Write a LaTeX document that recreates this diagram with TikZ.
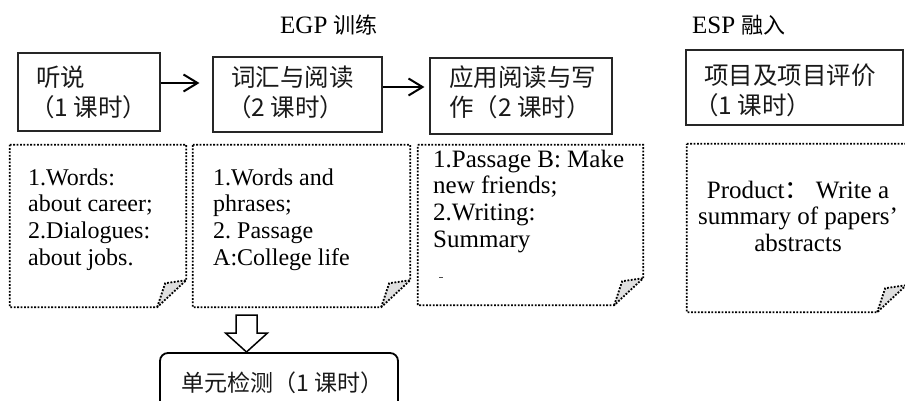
\documentclass[tikz,border=0pt]{standalone}
\usepackage{fontspec}
\setmainfont{Liberation Serif}
\newfontfamily\cjk{Noto Sans CJK SC}
\usetikzlibrary{arrows.meta}
\frenchspacing
\newcommand\foldbox[1]{%
  \fill[gray!25] ([xshift=-29pt]#1.south east) -- ([xshift=-21pt,yshift=24pt]#1.south east) -- ([yshift=27pt]#1.south east) -- cycle;
  \draw[dotline] (#1.north west) -- (#1.north east) -- ([yshift=27pt]#1.south east) -- ([xshift=-29pt]#1.south east) -- (#1.south west) -- cycle;
  \draw[dotline] ([xshift=-29pt]#1.south east) -- ([xshift=-21pt,yshift=24pt]#1.south east) -- ([yshift=27pt]#1.south east);
}
\begin{document}
\begin{tikzpicture}[x=1pt,y=-1pt,
  box/.style={draw=black!85, line width=1.1pt, inner sep=0pt},
  area/.style={inner sep=0pt},
  cjkt/.style={font=\cjk\fontsize{24.5}{28}\selectfont, align=left, inner sep=0pt, anchor=north west, text=black!90},
  ent/.style={font=\fontsize{24}{26.7}\selectfont, align=left, inner sep=0pt, anchor=north west, text=black},
  entb/.style={font=\fontsize{25}{26.7}\selectfont, align=left, inner sep=0pt, anchor=north west, text=black},
  dotline/.style={draw=black, line width=1.8pt, dash pattern=on 1.8pt off 1.6pt},
  arr/.style={line width=2pt, -{Straight Barb[length=14pt,width=17pt,line width=2pt]}},
  blockarr/.style={draw=black, line width=1.5pt, fill=white, line join=miter},
  title/.style={anchor=base west, inner sep=0pt, font=\fontsize{25}{30}\selectfont, text=black}
]
\clip (0,0) rectangle (905,400);
\fill[white] (0,0) rectangle (905,400);

% titles
\node[title] (t1) at (280,33) {EGP {\cjk\fontsize{22}{26}\selectfont 训练}};
\node[title] (t2) at (692,33) {ESP {\cjk\fontsize{22}{26}\selectfont 融入}};

% top boxes
\node[box, minimum width=142pt, minimum height=78pt] (b1) at (89,92) {};
\node[box, minimum width=169pt, minimum height=75pt] (b2) at (297.5,94.5) {};
\node[box, minimum width=182pt, minimum height=76pt] (b3) at (521,96) {};
\node[box, minimum width=217pt, minimum height=75pt] (b4) at (794.5,87.5) {};

\node[cjkt] (b1t) at (36,65.4) {\strut 听说\\\kern-6pt（1 课时）};
\node[cjkt] (b2t) at (231,65.4) {\strut 词汇与阅读\\\kern-4pt（2 课时）};
\node[cjkt] (b3t) at (449,65.4) {\strut 应用阅读与写\\作（2 课时）};
\node[cjkt] (b4t) at (704,63.4) {\strut 项目及项目评价\\\kern-10pt（1 课时）};

% arrows
\draw[arr, shorten >=13pt] ([yshift=9pt]b1.east) -- ([yshift=11.5pt]b2.west);
\draw[arr, shorten >=5pt] ([yshift=7.5pt]b2.east) -- ([yshift=9pt]b3.west);

% dotted folded boxes
\node[area, minimum width=176pt, minimum height=162pt] (d1) at (98,226) {};
\node[area, minimum width=217pt, minimum height=162pt] (d2) at (301.5,226) {};
\node[area, minimum width=225pt, minimum height=160pt] (d3) at (530.5,225) {};
\node[area, minimum width=219pt, minimum height=168pt] (d4) at (796.5,228) {};
\foldbox{d1}
\foldbox{d2}
\foldbox{d3}
\foldbox{d4}

\node[ent] (d1t) at (28,166.3) {\strut 1.Words:\\about career;\\2.Dialogues:\\about jobs.};
\node[ent] (d2t) at (213,166.3) {\strut 1.Words and\\phrases;\\2. Passage\\A:College life};
\node[entb] (d3t) at (433,148.3) {\strut 1.Passage B: Make\\new friends;\\2.Writing:\\Summary};
\draw[black!70, line width=1pt] (439,277) -- (442.5,277);
\node[entb, anchor=north, align=center] (d4t) at (798,179.3) {\strut Product{\cjk ：} Write a\\summary of papers’\\abstracts};

% block arrow and test box
\node[box, rounded corners=8pt, line width=1.8pt, draw=black, minimum width=238pt, minimum height=60pt] (b5) at (279,383) {};
\coordinate (ba) at (246.5,315);
\draw[blockarr] (ba) ++(-10.5,0) -- ++(21,0) -- ++(0,18) -- ++(10.5,0) -- ++(-21,19) -- ++(-21,-19) -- ++(10.5,0) -- cycle;
\node[anchor=base west, inner sep=0pt, font=\cjk\fontsize{23}{28}\selectfont, text=black!90] (b5t) at (181,391) {单元检测（1 课时）};
\end{tikzpicture}
\end{document}
